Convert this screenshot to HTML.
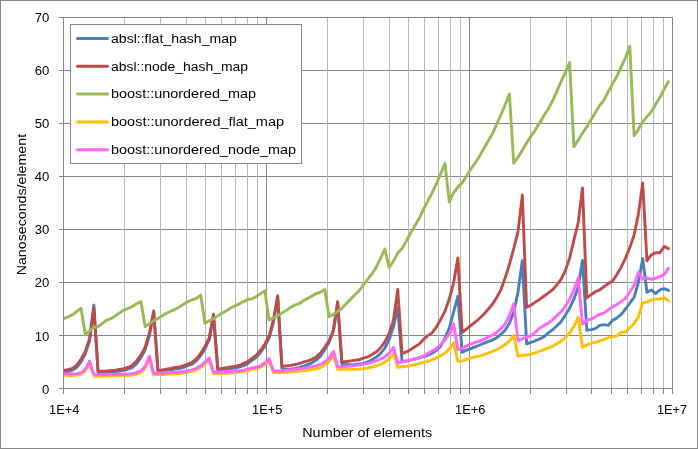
<!DOCTYPE html>
<html><head><meta charset="utf-8"><title>chart</title>
<style>html,body{margin:0;padding:0;background:#fff;}body{width:698px;height:449px;position:relative;overflow:hidden;font-family:"Liberation Sans",sans-serif;}</style>
</head><body>
<svg width="698" height="449" viewBox="0 0 698 449" style="position:absolute;left:0;top:0;font-family:'Liberation Sans',sans-serif;will-change:transform;">
<rect x="0" y="0" width="698" height="449" fill="#fff"/>
<path d="M266.5 17.5V388.5M469.5 17.5V388.5M672.5 17.5V388.5M63.5 335.5H672.5M63.5 282.5H672.5M63.5 229.5H672.5M63.5 176.5H672.5M63.5 123.5H672.5M63.5 70.5H672.5M63.5 17.5H672.5" stroke="#868686" stroke-width="1" fill="none" shape-rendering="crispEdges"/>
<path d="M124.5 17.5V388.5M160.5 17.5V388.5M186.5 17.5V388.5M205.5 17.5V388.5M221.5 17.5V388.5M235.5 17.5V388.5M247.5 17.5V388.5M257.5 17.5V388.5M327.5 17.5V388.5M363.5 17.5V388.5M389.5 17.5V388.5M408.5 17.5V388.5M424.5 17.5V388.5M438.5 17.5V388.5M450.5 17.5V388.5M460.5 17.5V388.5M530.5 17.5V388.5M566.5 17.5V388.5M591.5 17.5V388.5M611.5 17.5V388.5M627.5 17.5V388.5M641.5 17.5V388.5M653.5 17.5V388.5M663.5 17.5V388.5" stroke="#b7b7b7" stroke-width="1" fill="none" shape-rendering="crispEdges"/>
<clipPath id="pc"><rect x="63" y="17" width="610" height="372"/></clipPath><g clip-path="url(#pc)"><polyline points="63.80,372.07 68.10,371.54 72.40,370.21 76.70,367.30 80.99,362.00 85.28,354.05 89.57,340.80 93.85,305.08 98.13,372.60 102.42,372.60 106.70,372.33 110.97,372.07 115.25,371.70 119.52,371.01 123.80,370.27 128.07,369.10 132.34,367.30 136.62,363.59 140.89,357.76 145.16,349.81 149.43,335.50 153.71,312.71 157.98,372.07 162.25,371.54 166.52,370.69 170.79,369.95 175.06,369.10 179.33,368.52 183.60,367.30 187.87,365.71 192.14,364.12 196.41,360.94 200.68,355.64 204.96,348.75 209.23,339.74 213.50,315.89 217.78,370.27 222.05,369.95 226.33,369.26 230.60,368.52 234.88,368.10 239.16,367.09 243.43,365.71 247.71,363.59 251.99,360.41 256.27,357.23 260.55,352.46 264.83,346.37 269.11,338.15 273.39,322.25 277.67,297.34 281.95,368.62 286.23,369.31 290.51,369.15 294.80,368.47 299.08,367.56 303.36,366.24 307.65,364.65 311.93,362.80 316.22,360.09 320.51,355.90 324.79,349.81 329.08,342.18 333.37,331.26 337.66,303.70 341.95,364.92 346.23,364.76 350.52,364.65 354.81,364.38 359.10,364.01 363.39,363.32 367.69,362.00 371.98,359.77 376.27,357.12 380.56,353.52 384.85,348.06 389.15,339.48 393.44,327.02 397.73,307.41 402.03,361.31 406.32,360.94 410.61,360.20 414.91,358.98 419.20,357.87 423.50,356.70 427.79,355.11 432.09,353.20 436.38,350.34 440.68,346.10 444.97,338.15 449.27,328.08 453.56,312.18 457.86,296.28 462.15,352.35 466.45,350.13 470.75,348.59 475.04,346.79 479.34,345.25 483.64,343.45 487.93,341.65 492.23,340.11 496.53,337.88 500.83,334.44 505.12,330.20 509.42,323.31 513.72,312.18 518.02,292.04 522.31,260.77 526.61,343.87 530.91,342.34 535.21,340.80 539.51,339.00 543.80,336.77 548.10,333.12 552.40,329.94 556.70,325.96 561.00,321.72 565.30,315.36 569.60,308.15 573.89,299.09 578.19,287.27 582.49,260.24 586.79,330.20 591.09,329.67 595.39,328.61 599.69,325.43 603.99,324.58 608.29,325.43 612.59,320.39 616.89,318.01 621.19,314.30 625.48,309.00 629.78,303.17 634.08,297.34 638.38,282.50 642.68,258.38 646.98,292.25 651.28,289.92 655.58,293.63 659.88,289.92 664.18,288.60 668.48,290.45" fill="none" stroke="#4a7ebb" stroke-width="2.9" stroke-linejoin="round" stroke-linecap="round"/>
<polyline points="63.80,370.53 68.10,369.69 72.40,368.36 76.70,365.18 80.99,359.35 85.28,351.40 89.57,338.68 93.85,307.94 98.13,371.54 102.42,371.12 106.70,370.85 110.97,370.53 115.25,370.11 119.52,369.42 123.80,368.68 128.07,367.51 132.34,365.18 136.62,360.94 140.89,355.11 145.16,347.16 149.43,332.85 153.71,310.80 157.98,370.48 162.25,369.95 166.52,369.10 170.79,368.36 175.06,367.51 179.33,366.93 183.60,365.71 187.87,364.12 192.14,362.21 196.41,358.82 200.68,353.52 204.96,346.63 209.23,337.88 213.50,314.30 217.78,368.68 222.05,368.36 226.33,367.67 230.60,366.93 234.88,366.50 239.16,365.50 243.43,363.59 247.71,361.47 251.99,358.29 256.27,355.11 260.55,350.34 264.83,344.25 269.11,336.03 273.39,320.13 277.67,295.75 281.95,366.50 286.23,365.82 290.51,365.39 294.80,364.65 299.08,363.64 303.36,362.21 307.65,360.78 311.93,359.35 316.22,356.91 320.51,352.99 324.79,347.16 329.08,340.80 333.37,330.20 337.66,301.58 341.95,362.21 346.23,361.47 350.52,360.94 354.81,360.20 359.10,359.77 363.39,358.18 367.69,356.96 371.98,354.58 376.27,351.93 380.56,347.74 384.85,341.86 389.15,333.38 393.44,320.13 397.73,289.55 402.03,353.52 406.32,351.93 410.61,349.60 414.91,346.79 419.20,344.14 423.50,339.48 427.79,335.61 432.09,332.85 436.38,327.02 440.68,319.60 444.97,311.12 449.27,298.93 453.56,283.03 457.86,258.12 462.15,332.32 466.45,328.98 470.75,325.64 475.04,322.25 479.34,318.54 483.64,314.51 487.93,309.53 492.23,304.50 496.53,297.87 500.83,289.92 505.12,278.00 509.42,264.48 513.72,248.58 518.02,231.62 522.31,195.05 526.61,307.41 530.91,305.29 535.21,302.11 539.51,299.46 543.80,296.28 548.10,293.10 552.40,289.92 556.70,285.15 561.00,279.32 565.30,270.84 569.60,258.12 573.89,240.10 578.19,222.88 582.49,187.84 586.79,297.87 591.09,294.69 595.39,291.77 599.69,289.92 603.99,286.74 608.29,283.56 612.59,280.91 616.89,274.55 621.19,267.13 625.48,258.12 629.78,247.52 634.08,235.33 638.38,214.13 642.68,182.86 646.98,260.77 651.28,254.94 655.58,252.82 659.88,252.82 664.18,246.46 668.48,248.58" fill="none" stroke="#be4b48" stroke-width="2.9" stroke-linejoin="round" stroke-linecap="round"/>
<polyline points="63.80,318.65 68.10,316.79 72.40,314.83 76.70,311.49 80.99,308.20 85.28,334.44 89.57,330.84 93.85,327.28 98.13,326.54 102.42,323.42 106.70,320.13 110.97,318.65 115.25,315.89 119.52,312.92 123.80,310.06 128.07,308.47 132.34,306.51 136.62,303.70 140.89,301.58 145.16,326.49 149.43,323.84 153.71,320.82 157.98,318.54 162.25,315.89 166.52,313.24 170.79,311.23 175.06,309.37 179.33,306.88 183.60,304.34 187.87,301.58 192.14,299.78 196.41,298.40 200.68,295.06 204.96,323.31 209.23,320.82 213.50,318.70 217.78,315.89 222.05,313.24 226.33,310.80 230.60,307.94 234.88,305.82 239.16,304.07 243.43,301.58 247.71,299.46 251.99,298.93 256.27,296.49 260.55,293.63 264.83,290.77 269.11,320.13 273.39,318.01 277.67,315.57 281.95,312.98 286.23,310.38 290.51,307.52 294.80,305.08 299.08,303.70 303.36,300.78 307.65,298.40 311.93,296.07 316.22,293.63 320.51,292.20 324.79,289.39 329.08,316.58 333.37,314.41 337.66,311.54 341.95,308.20 346.23,303.70 350.52,299.14 354.81,294.69 359.10,290.72 363.39,285.15 367.69,279.11 371.98,274.02 376.27,267.13 380.56,258.12 384.85,249.11 389.15,267.50 393.44,261.09 397.73,253.08 402.03,248.58 406.32,241.16 410.61,233.21 414.91,225.79 419.20,218.37 423.50,209.36 427.79,201.14 432.09,192.93 436.38,183.92 440.68,173.85 444.97,163.25 449.27,201.94 453.56,192.93 457.86,187.10 462.15,182.86 466.45,176.24 470.75,169.08 475.04,163.25 479.34,156.36 483.64,148.94 487.93,141.52 492.23,134.36 496.53,124.56 500.83,115.02 505.12,104.95 509.42,94.09 513.72,163.25 518.02,157.16 522.31,150.16 526.61,143.11 530.91,136.22 535.21,130.12 539.51,122.97 543.80,115.81 548.10,109.19 552.40,101.24 556.70,91.70 561.00,81.63 565.30,72.36 569.60,62.55 573.89,146.56 578.19,140.46 582.49,133.04 586.79,126.94 591.09,119.79 595.39,112.37 599.69,105.48 603.99,100.18 608.29,91.70 612.59,83.75 616.89,76.33 621.19,66.79 625.48,57.78 629.78,46.38 634.08,135.69 638.38,129.33 642.68,121.91 646.98,116.61 651.28,111.84 655.58,104.42 659.88,97.53 664.18,89.05 668.48,81.63" fill="none" stroke="#98b954" stroke-width="2.9" stroke-linejoin="round" stroke-linecap="round"/>
<polyline points="63.80,375.14 68.10,375.46 72.40,375.46 76.70,375.14 80.99,374.19 85.28,370.90 89.57,363.59 93.85,375.89 98.13,376.20 102.42,376.10 106.70,375.99 110.97,375.89 115.25,375.89 119.52,375.78 123.80,375.67 128.07,375.57 132.34,375.14 136.62,374.08 140.89,372.33 145.16,367.99 149.43,358.82 153.71,375.14 157.98,374.61 162.25,374.45 166.52,374.24 170.79,374.08 175.06,373.71 179.33,373.45 183.60,373.02 187.87,372.28 192.14,371.33 196.41,369.84 200.68,367.30 204.96,363.70 209.23,360.57 213.50,373.55 217.78,373.71 222.05,373.55 226.33,373.29 230.60,373.02 234.88,372.76 239.16,372.33 243.43,371.59 247.71,370.59 251.99,369.42 256.27,368.78 260.55,367.30 264.83,364.44 269.11,361.31 273.39,372.55 277.67,372.60 281.95,372.60 286.23,372.60 290.51,372.18 294.80,371.81 299.08,371.27 303.36,370.85 307.65,370.32 311.93,369.69 316.22,368.89 320.51,367.56 324.79,364.92 329.08,361.47 333.37,354.58 337.66,369.42 341.95,369.26 346.23,369.00 350.52,369.31 354.81,369.42 359.10,369.10 363.39,368.62 367.69,367.99 371.98,367.09 376.27,365.98 380.56,364.44 384.85,362.11 389.15,358.98 393.44,353.52 397.73,367.25 402.03,366.77 406.32,366.29 410.61,365.50 414.91,364.76 419.20,363.64 423.50,362.42 427.79,361.31 432.09,359.77 436.38,357.87 440.68,355.64 444.97,353.25 449.27,349.01 453.56,343.03 457.86,361.26 462.15,360.83 466.45,359.51 470.75,357.92 475.04,356.81 479.34,356.17 483.64,354.58 487.93,353.04 492.23,351.67 496.53,349.70 500.83,347.48 505.12,344.56 509.42,340.80 513.72,335.66 518.02,356.17 522.31,355.27 526.61,355.06 530.91,354.16 535.21,352.83 539.51,351.24 543.80,349.70 548.10,348.22 552.40,346.37 556.70,343.98 561.00,341.22 565.30,337.62 569.60,332.85 573.89,326.49 578.19,317.22 582.49,347.37 586.79,344.93 591.09,343.19 595.39,342.50 599.69,340.80 603.99,339.53 608.29,337.62 612.59,336.82 616.89,335.87 621.19,332.32 625.48,331.95 629.78,327.76 634.08,323.63 638.38,316.95 642.68,302.64 646.98,302.11 651.28,299.99 655.58,299.09 659.88,299.09 664.18,297.66 668.48,300.84" fill="none" stroke="#ffc000" stroke-width="2.9" stroke-linejoin="round" stroke-linecap="round"/>
<polyline points="63.80,373.66 68.10,373.98 72.40,373.98 76.70,373.66 80.99,372.71 85.28,369.42 89.57,360.94 93.85,374.40 98.13,374.72 102.42,374.61 106.70,374.51 110.97,374.40 115.25,374.40 119.52,374.30 123.80,374.19 128.07,374.08 132.34,373.66 136.62,372.60 140.89,370.85 145.16,366.50 149.43,356.17 153.71,373.66 157.98,373.13 162.25,372.97 166.52,372.76 170.79,372.60 175.06,372.23 179.33,371.96 183.60,371.54 187.87,370.80 192.14,369.84 196.41,368.36 200.68,365.82 204.96,362.21 209.23,357.92 213.50,372.07 217.78,372.23 222.05,372.07 226.33,371.81 230.60,371.54 234.88,371.27 239.16,370.85 243.43,370.11 247.71,369.10 251.99,367.94 256.27,367.30 260.55,365.82 264.83,362.95 269.11,358.66 273.39,370.80 277.67,370.96 281.95,370.69 286.23,370.37 290.51,369.84 294.80,369.42 299.08,368.84 303.36,368.25 307.65,367.51 311.93,366.66 316.22,365.82 320.51,364.38 324.79,361.79 329.08,358.34 333.37,351.19 337.66,366.93 341.95,366.82 346.23,366.40 350.52,365.98 354.81,365.50 359.10,364.92 363.39,364.12 367.69,363.32 371.98,362.11 376.27,360.83 380.56,358.98 384.85,356.70 389.15,353.04 393.44,347.27 397.73,362.85 402.03,362.11 406.32,360.99 410.61,359.77 414.91,358.98 419.20,357.76 423.50,355.85 427.79,353.52 432.09,350.87 436.38,348.86 440.68,344.51 444.97,340.00 449.27,333.91 453.56,323.84 457.86,349.70 462.15,348.38 466.45,346.10 470.75,344.14 475.04,342.39 479.34,341.33 483.64,339.42 487.93,337.20 492.23,335.24 496.53,332.32 500.83,328.98 505.12,323.84 509.42,315.62 513.72,303.70 518.02,340.80 522.31,339.00 526.61,337.20 530.91,335.66 535.21,332.32 539.51,328.29 543.80,325.64 548.10,323.31 552.40,319.87 556.70,315.89 561.00,311.86 565.30,306.35 569.60,299.46 573.89,289.92 578.19,278.00 582.49,324.11 586.79,320.39 591.09,319.18 595.39,316.74 599.69,314.30 603.99,313.08 608.29,309.90 612.59,306.88 616.89,304.50 621.19,301.58 625.48,298.40 629.78,292.04 634.08,285.68 638.38,271.90 642.68,279.32 646.98,278.00 651.28,279.32 655.58,278.00 659.88,276.67 664.18,274.55 668.48,268.19" fill="none" stroke="#ff66ff" stroke-width="2.9" stroke-linejoin="round" stroke-linecap="round"/></g>
<path d="M63.5 17.5V393.5M59.0 388.5H672.5M59.0 335.5H63.5M59.0 282.5H63.5M59.0 229.5H63.5M59.0 176.5H63.5M59.0 123.5H63.5M59.0 70.5H63.5M59.0 17.5H63.5M63.5 388.5v5M124.5 388.5v5M160.5 388.5v5M186.5 388.5v5M205.5 388.5v5M221.5 388.5v5M235.5 388.5v5M247.5 388.5v5M257.5 388.5v5M266.5 388.5v5M327.5 388.5v5M363.5 388.5v5M389.5 388.5v5M408.5 388.5v5M424.5 388.5v5M438.5 388.5v5M450.5 388.5v5M460.5 388.5v5M469.5 388.5v5M530.5 388.5v5M566.5 388.5v5M591.5 388.5v5M611.5 388.5v5M627.5 388.5v5M641.5 388.5v5M653.5 388.5v5M663.5 388.5v5M672.5 388.5v5" stroke="#868686" stroke-width="1" fill="none" shape-rendering="crispEdges"/>
<text x="49.3" y="393.8" font-size="12" text-anchor="end" fill="#000" textLength="7.3" lengthAdjust="spacingAndGlyphs">0</text>
<text x="49.3" y="340.8" font-size="12" text-anchor="end" fill="#000" textLength="14.6" lengthAdjust="spacingAndGlyphs">10</text>
<text x="49.3" y="286.8" font-size="12" text-anchor="end" fill="#000" textLength="14.6" lengthAdjust="spacingAndGlyphs">20</text>
<text x="49.3" y="233.8" font-size="12" text-anchor="end" fill="#000" textLength="14.6" lengthAdjust="spacingAndGlyphs">30</text>
<text x="49.3" y="180.8" font-size="12" text-anchor="end" fill="#000" textLength="14.6" lengthAdjust="spacingAndGlyphs">40</text>
<text x="49.3" y="127.8" font-size="12" text-anchor="end" fill="#000" textLength="14.6" lengthAdjust="spacingAndGlyphs">50</text>
<text x="49.3" y="74.8" font-size="12" text-anchor="end" fill="#000" textLength="14.6" lengthAdjust="spacingAndGlyphs">60</text>
<text x="49.3" y="21.8" font-size="12" text-anchor="end" fill="#000" textLength="14.6" lengthAdjust="spacingAndGlyphs">70</text>
<text x="64.2" y="414" font-size="12" text-anchor="middle" fill="#000" textLength="30.2" lengthAdjust="spacingAndGlyphs">1E+4</text>
<text x="267.2" y="414" font-size="12" text-anchor="middle" fill="#000" textLength="30.2" lengthAdjust="spacingAndGlyphs">1E+5</text>
<text x="470.2" y="414" font-size="12" text-anchor="middle" fill="#000" textLength="30.2" lengthAdjust="spacingAndGlyphs">1E+6</text>
<text x="672.0" y="414" font-size="12" text-anchor="middle" fill="#000" textLength="30.2" lengthAdjust="spacingAndGlyphs">1E+7</text>
<text x="367.2" y="436.5" font-size="12" text-anchor="middle" fill="#000" textLength="130" lengthAdjust="spacingAndGlyphs">Number of elements</text>
<text transform="translate(25.9 204.6) rotate(-90)" font-size="12" text-anchor="middle" fill="#000" textLength="141.5" lengthAdjust="spacingAndGlyphs">Nanoseconds/element</text>
<rect x="70.5" y="24.5" width="231" height="139" fill="#fff" stroke="#868686" stroke-width="1" shape-rendering="crispEdges"/>
<path d="M77.5 38.4H107.5" stroke="#4a7ebb" stroke-width="3" stroke-linecap="round" fill="none"/>
<text x="111" y="42.699999999999996" font-size="12" fill="#000" textLength="125.8" lengthAdjust="spacingAndGlyphs">absl::flat_hash_map</text>
<path d="M77.5 66.25H107.5" stroke="#be4b48" stroke-width="3" stroke-linecap="round" fill="none"/>
<text x="111" y="70.55" font-size="12" fill="#000" textLength="137" lengthAdjust="spacingAndGlyphs">absl::node_hash_map</text>
<path d="M77.5 94.1H107.5" stroke="#98b954" stroke-width="3" stroke-linecap="round" fill="none"/>
<text x="111" y="98.39999999999999" font-size="12" fill="#000" textLength="145" lengthAdjust="spacingAndGlyphs">boost::unordered_map</text>
<path d="M77.5 121.95000000000002H107.5" stroke="#ffc000" stroke-width="3" stroke-linecap="round" fill="none"/>
<text x="111" y="126.25000000000001" font-size="12" fill="#000" textLength="173" lengthAdjust="spacingAndGlyphs">boost::unordered_flat_map</text>
<path d="M77.5 149.8H107.5" stroke="#ff66ff" stroke-width="3" stroke-linecap="round" fill="none"/>
<text x="111" y="154.10000000000002" font-size="12" fill="#000" textLength="185" lengthAdjust="spacingAndGlyphs">boost::unordered_node_map</text>
<rect x="0.5" y="0.5" width="697" height="448" fill="none" stroke="#868686" stroke-width="1" shape-rendering="crispEdges"/>
</svg>
</body></html>
